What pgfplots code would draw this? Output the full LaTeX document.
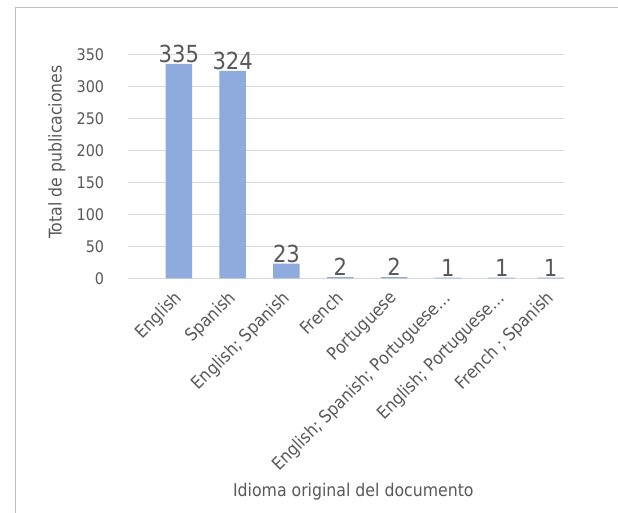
\documentclass[border=0pt]{standalone}
\usepackage{pgfplots}
\pgfplotsset{compat=1.18}
\usepackage{fontspec}
\setmainfont{DejaVu Sans Condensed}
\definecolor{txt}{HTML}{595959}
\definecolor{gridc}{HTML}{D9D9D9}
\definecolor{barc}{HTML}{8FAADC}
\definecolor{framec}{HTML}{BFBFBF}
\begin{document}
\begin{tikzpicture}
\useasboundingbox (0,0) rectangle (618bp,513bp);
\fill[white] (0,0) rectangle (618bp,513bp);
\draw[framec, line width=1.3bp] (15.3bp,0) -- (15.3bp,505.7bp) -- (618bp,505.7bp);
\begin{axis}[
  at={(128.3bp,234.7bp)}, anchor=south west,
  scale only axis, width=435.3bp, height=224bp,
  /pgf/number format/assume math mode=true,
  ybar, bar width=26.5bp,
  xmin=-0.94, xmax=7.15, ymin=0, ymax=350,
  ytick={0,50,100,150,200,250,300,350},
  xtick={0,1,2,3,4,5,6,6.91},
  xticklabels={English, Spanish, {English; Spanish}, French, Portuguese, {English; Spanish; Portuguese…}, {English; Portuguese…}, {French ; Spanish}},
  axis line style={draw=none},
  major tick length=0pt,
  ymajorgrids, grid style={gridc, line width=1.1bp},
  clip=false,
  yticklabel style={anchor=east, inner sep=0pt, xshift=-24bp, font=\fontsize{16bp}{19bp}\selectfont, text=txt},
  xticklabel style={anchor=north east, inner sep=0pt, rotate=45, font=\fontsize{17.5bp}{20bp}\selectfont, text=txt, xshift=-11.7bp, yshift=-3.9bp},
  xlabel={Idioma original del documento},
  ylabel={Total de publicaciones},
  xlabel style={at={(axis description cs:0.517,-0.954)}, anchor=center, font=\fontsize{17.5bp}{20bp}\selectfont, text=txt},
  ylabel style={at={(axis description cs:-0.164,0.564)}, anchor=center, font=\fontsize{17.5bp}{20bp}\selectfont, text=txt},
  nodes near coords,
  nodes near coords style={anchor=south, inner sep=1bp, font=\fontsize{23.5bp}{26bp}\selectfont, text=txt},
]
\addplot[fill=barc, draw=none] coordinates {(0,335) (1,324) (2,23) (3,2) (4,2) (5,1) (6,1) (6.91,1)};
\end{axis}
\end{tikzpicture}
\end{document}
